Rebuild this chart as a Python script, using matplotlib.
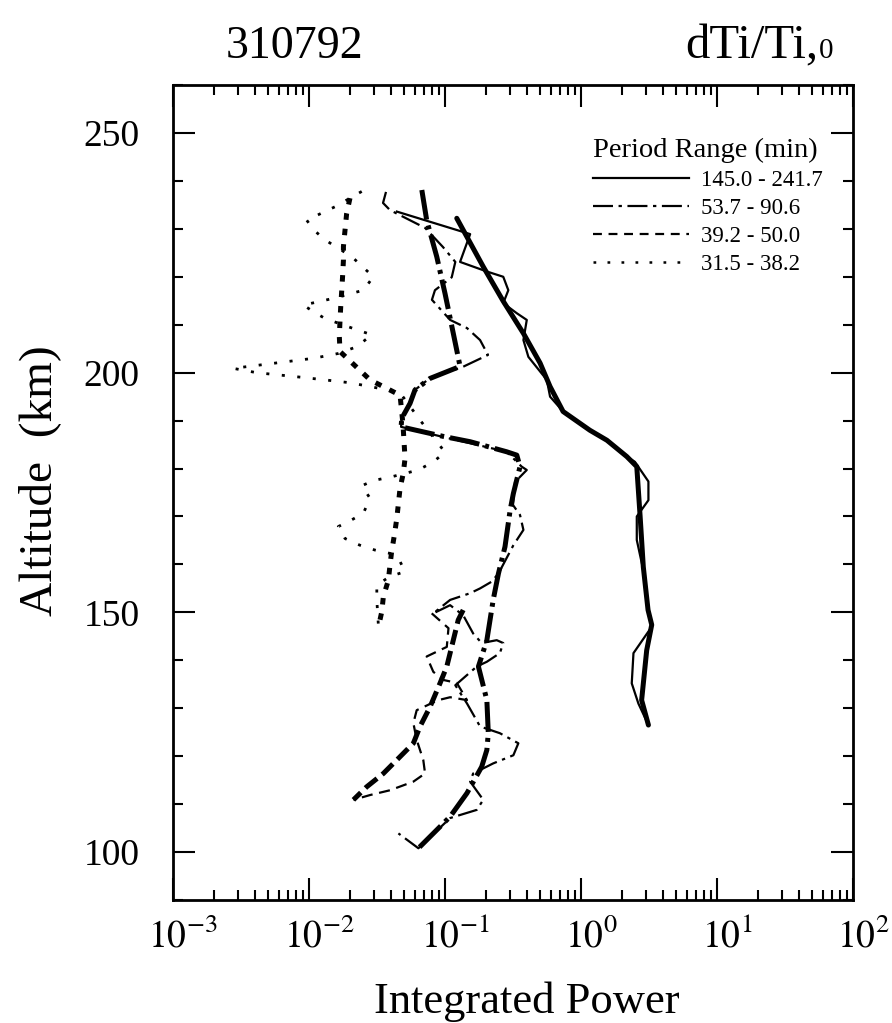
import numpy as np
import matplotlib
matplotlib.use("Agg")
import matplotlib.pyplot as plt
import matplotlib.transforms as mtransforms
from matplotlib.lines import Line2D
from matplotlib.ticker import LogLocator, FuncFormatter, MultipleLocator, NullFormatter

plt.rcParams['font.family'] = ['Liberation Serif', 'DejaVu Serif']
plt.rcParams['mathtext.fontset'] = 'stix'

# period range 145.0 - 241.7 min (solid): raw profile and smoothed fit
solid_thin_p = [0.0442, 0.153, 0.129, 0.203, 0.268, 0.292, 0.268, 0.337, 0.399, 0.377, 0.410, 0.560, 0.592, 0.738,
                1.16, 1.55, 2.17, 2.49, 3.13, 3.13, 2.57, 2.57, 2.87, 3.04, 3.31, 2.43, 2.36, 2.64, 3.13]
solid_thin_z = [233.6, 228.9, 223.1, 221.1, 220.0, 217.2, 214.5, 212.4, 211.0, 206.8, 203.3, 198.5, 195.0, 191.9,
                188.0, 185.9, 182.5, 181.4, 177.3, 173.4, 170.0, 165.1, 158.8, 152.6, 147.0, 141.5, 135.2, 131.0, 126.5]
solid_thick_p = [0.122, 0.191, 0.268, 0.377, 0.500, 0.592, 0.738, 1.16, 1.55, 2.17, 2.57, 2.72, 2.87, 3.11, 3.31,
                 3.04, 2.79, 3.13]
solid_thick_z = [232.2, 222.1, 214.9, 208.2, 202.0, 197.1, 191.9, 188.0, 185.9, 182.5, 180.4, 170.0, 159.5, 150.5,
                 147.4, 142.1, 131.7, 126.5]

# period range 53.7 - 90.6 min (dash-dot)
dashdot_thin_p = [0.0368, 0.0350, 0.0394, 0.0713, 0.0966, 0.119, 0.112, 0.0843, 0.0801, 0.109, 0.145, 0.181, 0.207,
                  0.135, 0.0776, 0.0601, 0.0553, 0.0481, 0.0475, 0.0966, 0.284, 0.366, 0.399, 0.327, 0.316, 0.356,
                  0.377, 0.318, 0.247, 0.220, 0.181, 0.153, 0.109, 0.0820, 0.109, 0.136, 0.161, 0.186, 0.240, 0.268,
                  0.253, 0.203, 0.171, 0.119, 0.145, 0.181, 0.253, 0.346, 0.318, 0.226, 0.161, 0.153, 0.191, 0.171,
                  0.109, 0.0637, 0.0454]
dashdot_thin_z = [237.7, 235.4, 233.9, 230.2, 226.2, 223.1, 219.9, 217.2, 215.2, 211.0, 209.3, 206.8, 203.7,
                  201.2, 198.9, 196.4, 193.7, 190.5, 188.7, 186.6, 183.5, 180.4, 179.7, 177.2, 172.4, 170.3,
                  167.2, 164.0, 158.1, 156.4, 155.0, 154.0, 152.6, 149.8, 151.5, 149.4, 145.6, 143.6, 144.2, 143.6,
                  141.5, 139.7, 138.7, 134.8, 131.0, 126.2, 124.8, 122.7, 120.2, 118.5, 116.4, 114.7, 110.9, 108.8,
                  107.1, 100.8, 103.9]
dashdot_thick_p = [0.0675, 0.0733, 0.0869, 0.100, 0.115, 0.129, 0.0776, 0.0601, 0.0553, 0.0481, 0.0475, 0.0973,
                   0.153, 0.284, 0.337, 0.356, 0.318, 0.301, 0.276, 0.247, 0.226, 0.203, 0.176, 0.203, 0.208, 0.203,
                   0.186, 0.145, 0.109, 0.082, 0.0637]
dashdot_thick_z = [238.1, 231.8, 224.2, 216.5, 208.2, 201.3, 198.8, 196.4, 193.6, 190.5, 188.7, 186.7,
                   185.6, 183.5, 182.8, 180.4, 174.8, 171.3, 163.7, 158.1, 152.6, 144.2, 138.7, 131.7, 124.8, 121.3,
                   117.8, 112.3, 107.4, 103.9, 100.8]

# period range 39.2 - 50.0 min (dashed)
dashed_thin_p = [0.0798, 0.106, 0.103, 0.0733, 0.0820, 0.0973, 0.122, 0.145, 0.109, 0.0893, 0.0619, 0.0585,
                 0.0619, 0.0692, 0.0713, 0.0585, 0.0394, 0.0281, 0.0212]
dashed_thin_z = [149.8, 146.7, 142.8, 140.8, 137.6, 135.9, 135.3, 131.7, 132.3, 131.7, 129.6, 126.9,
                 123.4, 119.2, 116.4, 114.7, 112.9, 111.9, 110.9]
dashed_thick_p = [0.136, 0.125, 0.115, 0.103, 0.0918, 0.0776, 0.0655, 0.0585, 0.0467, 0.0352, 0.0265, 0.0212]
dashed_thick_z = [150.5, 148.4, 144.2, 138.7, 135.2, 130.3, 126.2, 122.7, 119.9, 116.4, 113.6, 110.9]

# period range 31.5 - 38.2 min (dotted)
dotted_thin_p = [0.0244, 0.0155, 0.00962, 0.0108, 0.0131, 0.0206, 0.0297, 0.0251, 0.0151, 0.00908, 0.0108, 0.0131,
                 0.0212, 0.0289, 0.0224, 0.0164, 0.0108, 0.00686, 0.00277, 0.00412, 0.00908, 0.0200, 0.0333, 0.0467,
                 0.0655, 0.100, 0.082, 0.0637, 0.0394, 0.0297, 0.0244, 0.0281, 0.0251, 0.0206, 0.0164, 0.0184,
                 0.0237, 0.0305, 0.0394, 0.0467, 0.0508, 0.0394, 0.0315, 0.0315, 0.0324]
dotted_thin_z = [237.8, 234.6, 231.8, 229.8, 227.7, 224.2, 220.0, 217.2, 215.5, 214.1, 212.7, 211.3,
                 209.2, 207.9, 205.4, 204.0, 203.0, 202.3, 200.9, 200.0, 199.0, 197.9, 196.7, 195.8,
                 190.1, 183.4, 181.4, 179.7, 178.2, 177.5, 176.4, 173.8, 170.7, 169.3, 167.9, 165.4,
                 164.0, 163.0, 162.3, 160.6, 158.5, 157.5, 155.7, 152.6, 147.0]
dotted_thick_p = [0.0200, 0.0189, 0.0184, 0.0179, 0.0179, 0.0177, 0.0174, 0.0171, 0.0169, 0.0167, 0.0169, 0.0281,
                  0.0467, 0.0491, 0.0508, 0.0493, 0.0467, 0.0454, 0.0442, 0.0424, 0.0405, 0.0394, 0.0383, 0.0352,
                  0.0343, 0.0324]
dotted_thick_z = [236.4, 233.2, 229.8, 226.3, 223.5, 220.7, 217.2, 213.8, 211.0, 207.5, 204.4, 198.5,
                  195.3, 189.1, 182.1, 179.0, 175.9, 172.7, 169.6, 166.1, 162.7, 159.9, 156.7, 153.3,
                  150.2, 147.0]

legend_labels = ['145.0 - 241.7', '53.7 - 90.6', '39.2 - 50.0', '31.5 - 38.2']

fig = plt.figure(figsize=(8.92, 10.23), dpi=100)
ax = fig.add_axes([0.194, 0.1202, 0.7623, 0.7967])
ax.set_xscale('log')

thin, thick = 1.6, 3.6

# raw profiles
ax.plot(solid_thin_p, solid_thin_z, color='k', lw=thin)
ax.plot(dashdot_thin_p, dashdot_thin_z, color='k', lw=thin, dashes=(9, 2.5, 1.5, 2.5))
ax.plot(dashed_thin_p, dashed_thin_z, color='k', lw=thin, dashes=(5, 3))
ax.plot(dotted_thin_p, dotted_thin_z, color='k', lw=2.0, dashes=(1.1, 4.5))

# smoothed profiles
ax.plot(solid_thick_p, solid_thick_z, color='k', lw=thick, solid_capstyle='round')
ax.plot(dashdot_thick_p, dashdot_thick_z, color='k', lw=thick, dashes=(6, 1.2, 0.8, 1.2))
ax.plot(dashed_thick_p, dashed_thick_z, color='k', lw=thick, dashes=(3, 1.3))
ax.plot(dotted_thick_p, dotted_thick_z, color='k', lw=thick, dashes=(1.3, 1.8))

ax.set_xlim(1e-3, 1e2)
ax.set_ylim(90, 260)

ax.xaxis.set_major_locator(LogLocator(base=10, numticks=10))
ax.xaxis.set_minor_locator(LogLocator(base=10, subs=np.arange(2, 10), numticks=50))
ax.xaxis.set_major_formatter(FuncFormatter(lambda v, pos: r'$\mathrm{10^{%d}}$' % round(np.log10(v))))
ax.xaxis.set_minor_formatter(NullFormatter())
ax.yaxis.set_major_locator(MultipleLocator(50))
ax.yaxis.set_minor_locator(MultipleLocator(10))

ax.tick_params(which='both', direction='in', top=True, right=True, width=1.5)
ax.tick_params(which='major', length=16)
ax.tick_params(which='minor', length=7)
ax.tick_params(axis='x', labelsize=27, pad=13)
ax.tick_params(axis='y', labelsize=27, pad=24)
for s in ax.spines.values():
    s.set_linewidth(2)

# exponent labels sit a little right of their ticks in the original
shift = mtransforms.ScaledTranslation(0.10, 0, fig.dpi_scale_trans)
for lbl in ax.get_xticklabels():
    lbl.set_transform(lbl.get_transform() + shift)

ax.set_xlabel('Integrated Power', fontsize=32, labelpad=20)
ax.xaxis.set_label_coords(0.52, -0.1)
ax.set_ylabel('Altitude  (km)', fontsize=34)
ax.yaxis.set_label_coords(-0.165, 0.515)

fig.text(0.33, 0.943, '310792', ha='center', va='baseline', fontsize=33)
fig.text(0.918, 0.943, 'dTi/Ti,', ha='right', va='baseline', fontsize=35)
fig.text(0.918, 0.943, '0', ha='left', va='baseline', fontsize=21)

# legend
handles = [Line2D([], [], color='k', lw=1.6),
           Line2D([], [], color='k', lw=1.6, dashes=(9, 2.5, 1.5, 2.5)),
           Line2D([], [], color='k', lw=1.6, dashes=(4, 3)),
           Line2D([], [], color='k', lw=1.8, dashes=(1.1, 4.5))]
ax.legend(handles, legend_labels, title='Period Range (min)', loc='upper right',
          bbox_to_anchor=(0.955, 0.935), frameon=False, fontsize=16.5, title_fontsize=20.5,
          handlelength=4.2, handletextpad=0.5, labelspacing=0.3, borderpad=0,
          borderaxespad=0, alignment='left')

fig.savefig('out.png', dpi=100)
